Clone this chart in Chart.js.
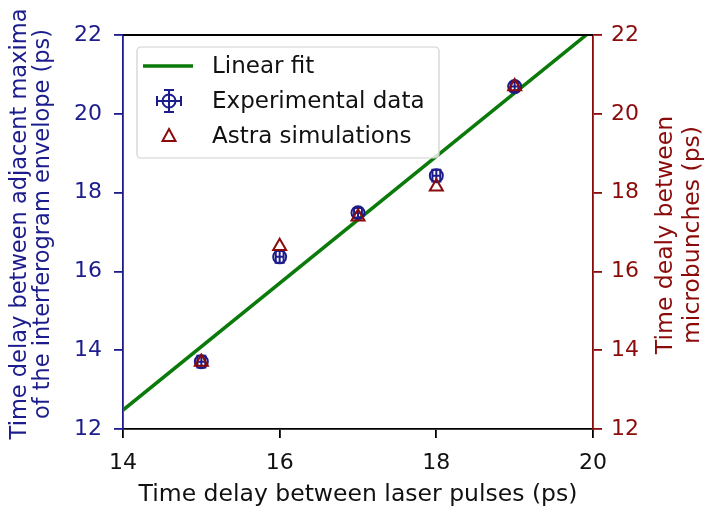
<!DOCTYPE html>
<html>
<head>
<meta charset="utf-8">
<script src="https://cdn.jsdelivr.net/npm/chart.js@4.4.1/dist/chart.umd.min.js"></script>
<style>
  body { margin: 0; background: #fff; }
  canvas { display: block; }
</style>
</head>
<body>
<canvas id="delayChart" width="710" height="509"></canvas>
<script>
// values
var pulseDelays = [15, 16, 17, 18, 19];
var measuredDelays = [13.71, 16.37, 17.49, 18.43, 20.69];
var measuredErrY = [0.15, 0.15, 0.12, 0.15, 0.12];
var measuredErrX = [0.05, 0.05, 0.05, 0.05, 0.05];
var simulatedDelays = [13.70, 16.64, 17.39, 18.15, 20.69];
var fitX = [14, 20];
var fitY = [12.48, 22.14];
var xTicks = [14, 16, 18, 20];
var yTicks = [12, 14, 16, 18, 20, 22];
var leftTitle = ['Time delay between adjacent maxima', 'of the interferogram envelope (ps)'];
var rightTitle = ['Time dealy between', 'microbunches (ps)'];

var BLUE = '#1c1c8c';
var RED = '#8b0a0a';
var GREEN = '#0a7a0a';
var FONT = "'DejaVu Sans', sans-serif";

function toPoints(xs, ys) {
    return xs.map(function (x, i) { return { x: x, y: ys[i] }; });
}

function drawErrorMark(ctx, cx, cy, dxLeft, dxRight, dyUp, dyDown, cap) {
    ctx.beginPath();
    ctx.moveTo(cx, cy - dyUp); ctx.lineTo(cx, cy + dyDown);
    ctx.moveTo(cx - dxLeft, cy); ctx.lineTo(cx + dxRight, cy);
    ctx.moveTo(cx - cap, cy - dyUp); ctx.lineTo(cx + cap, cy - dyUp);
    ctx.moveTo(cx - cap, cy + dyDown); ctx.lineTo(cx + cap, cy + dyDown);
    ctx.moveTo(cx - dxLeft, cy - cap); ctx.lineTo(cx - dxLeft, cy + cap);
    ctx.moveTo(cx + dxRight, cy - cap); ctx.lineTo(cx + dxRight, cy + cap);
    ctx.stroke();
}

// rotated two-line title, reading bottom to top (matplotlib style)
function drawVerticalTitle(ctx, lines, xs, cy, color, size) {
    ctx.save();
    ctx.fillStyle = color;
    ctx.font = size + 'px ' + FONT;
    ctx.textAlign = 'center';
    ctx.textBaseline = 'middle';
    lines.forEach(function (t, i) {
        ctx.save();
        ctx.translate(xs[i], cy);
        ctx.rotate(-Math.PI / 2);
        ctx.fillText(t, 0, 0);
        ctx.restore();
    });
    ctx.restore();
}

// error bars for the experimental points, drawn under the markers
var errorBars = {
    id: 'errorBars',
    beforeDatasetDraw: function (chart, args) {
        if (args.index !== 1) return;
        var ctx = chart.ctx, xs = chart.scales.x, ys = chart.scales.y;
        ctx.save();
        ctx.strokeStyle = BLUE;
        ctx.lineWidth = 2;
        pulseDelays.forEach(function (x, i) {
            var cx = xs.getPixelForValue(x), cy = ys.getPixelForValue(measuredDelays[i]);
            var dx = xs.getPixelForValue(x + measuredErrX[i]) - cx;
            var dy = cy - ys.getPixelForValue(measuredDelays[i] + measuredErrY[i]);
            drawErrorMark(ctx, cx, cy, dx, dx, dy, dy, 5);
        });
        ctx.restore();
    }
};

// top spine, axis titles and the boxed legend
var decorations = {
    id: 'decorations',
    afterDraw: function (chart) {
        var ctx = chart.ctx, a = chart.chartArea;
        ctx.save();
        ctx.strokeStyle = '#000';
        ctx.lineWidth = 1.8;
        ctx.beginPath();
        ctx.moveTo(a.left, a.top); ctx.lineTo(a.right, a.top);
        ctx.stroke();

        var midY = (a.top + a.bottom) / 2;
        drawVerticalTitle(ctx, leftTitle, [20, 43], midY - 8, BLUE, 22.5);
        drawVerticalTitle(ctx, rightTitle, [666, 693], midY + 3, RED, 23.5);

        // legend
        var bx = 137, by = 47, bw = 302, bh = 111, r = 4;
        ctx.beginPath();
        ctx.moveTo(bx + r, by);
        ctx.arcTo(bx + bw, by, bx + bw, by + bh, r);
        ctx.arcTo(bx + bw, by + bh, bx, by + bh, r);
        ctx.arcTo(bx, by + bh, bx, by, r);
        ctx.arcTo(bx, by, bx + bw, by, r);
        ctx.closePath();
        ctx.fillStyle = 'rgba(255,255,255,0.8)';
        ctx.fill();
        ctx.strokeStyle = '#d0d0d0';
        ctx.lineWidth = 1.2;
        ctx.stroke();

        var ds = chart.data.datasets;
        var rows = [66, 101, 136];
        ctx.fillStyle = '#111';
        ctx.font = '23px ' + FONT;
        ctx.textAlign = 'left';
        ctx.textBaseline = 'middle';
        ds.forEach(function (d, i) { ctx.fillText(d.label, 212, rows[i] + 1); });

        ctx.strokeStyle = GREEN;
        ctx.lineWidth = 3.5;
        ctx.beginPath();
        ctx.moveTo(143, rows[0]); ctx.lineTo(193, rows[0]);
        ctx.stroke();

        ctx.strokeStyle = BLUE;
        ctx.lineWidth = 2;
        drawErrorMark(ctx, 169, rows[1], 12, 12, 11, 11, 5);
        ctx.beginPath();
        ctx.arc(169, rows[1], 6.5, 0, Math.PI * 2);
        ctx.stroke();

        ctx.strokeStyle = RED;
        ctx.beginPath();
        ctx.moveTo(169, rows[2] - 7); ctx.lineTo(175.5, rows[2] + 5); ctx.lineTo(162.5, rows[2] + 5);
        ctx.closePath();
        ctx.stroke();
        ctx.restore();
    }
};

var ctx = document.getElementById('delayChart').getContext('2d');
var delayChart = new Chart(ctx, {
    type: 'scatter',
    data: {
        datasets: [{
            label: 'Linear fit',
            type: 'line',
            data: toPoints(fitX, fitY),
            borderColor: GREEN,
            borderWidth: 3.5,
            pointRadius: 0,
            fill: false,
            order: 3
        }, {
            label: 'Experimental data',
            data: toPoints(pulseDelays, measuredDelays),
            pointStyle: 'circle',
            pointRadius: 6.5,
            pointBorderWidth: 2,
            borderColor: BLUE,
            backgroundColor: 'rgba(0,0,0,0)',
            order: 2
        }, {
            label: 'Astra simulations',
            data: toPoints(pulseDelays, simulatedDelays),
            yAxisID: 'y2',
            pointStyle: 'triangle',
            pointRadius: 7.5,
            pointBorderWidth: 2,
            borderColor: RED,
            backgroundColor: 'rgba(0,0,0,0)',
            order: 1
        }]
    },
    options: {
        responsive: false,
        animation: false,
        clip: 0,
        layout: { padding: { top: 35, right: 0, left: 0, bottom: 0 } },
        plugins: { legend: { display: false }, tooltip: { enabled: false } },
        scales: {
            x: {
                type: 'linear',
                min: 14, max: 20,
                afterBuildTicks: function (s) { s.ticks = xTicks.map(function (v) { return { value: v }; }); },
                afterFit: function (s) { s.height = 80; },
                grid: { drawOnChartArea: false, tickLength: 9, color: '#000', lineWidth: 1.8 },
                border: { color: '#000', width: 1.8 },
                ticks: { color: '#111', font: { family: FONT, size: 22 }, padding: 12 },
                title: {
                    display: true,
                    text: 'Time delay between laser pulses (ps)',
                    color: '#111',
                    font: { family: FONT, size: 23.5 },
                    padding: { top: 0, bottom: 0 }
                }
            },
            y: {
                type: 'linear',
                position: 'left',
                min: 12, max: 22,
                afterBuildTicks: function (s) { s.ticks = yTicks.map(function (v) { return { value: v }; }); },
                afterFit: function (s) { s.width = 123; },
                grid: { drawOnChartArea: false, tickLength: 9, color: BLUE, lineWidth: 1.8 },
                border: { color: BLUE, width: 1.8 },
                ticks: { color: BLUE, font: { family: FONT, size: 22 }, padding: 12 }
            },
            y2: {
                type: 'linear',
                position: 'right',
                min: 12, max: 22,
                afterBuildTicks: function (s) { s.ticks = yTicks.map(function (v) { return { value: v }; }); },
                afterFit: function (s) { s.width = 117; },
                grid: { drawOnChartArea: false, tickLength: 9, color: RED, lineWidth: 1.8 },
                border: { color: RED, width: 1.8 },
                ticks: { color: RED, font: { family: FONT, size: 22 }, padding: 9 }
            }
        }
    },
    plugins: [errorBars, decorations]
});
</script>
</body>
</html>
